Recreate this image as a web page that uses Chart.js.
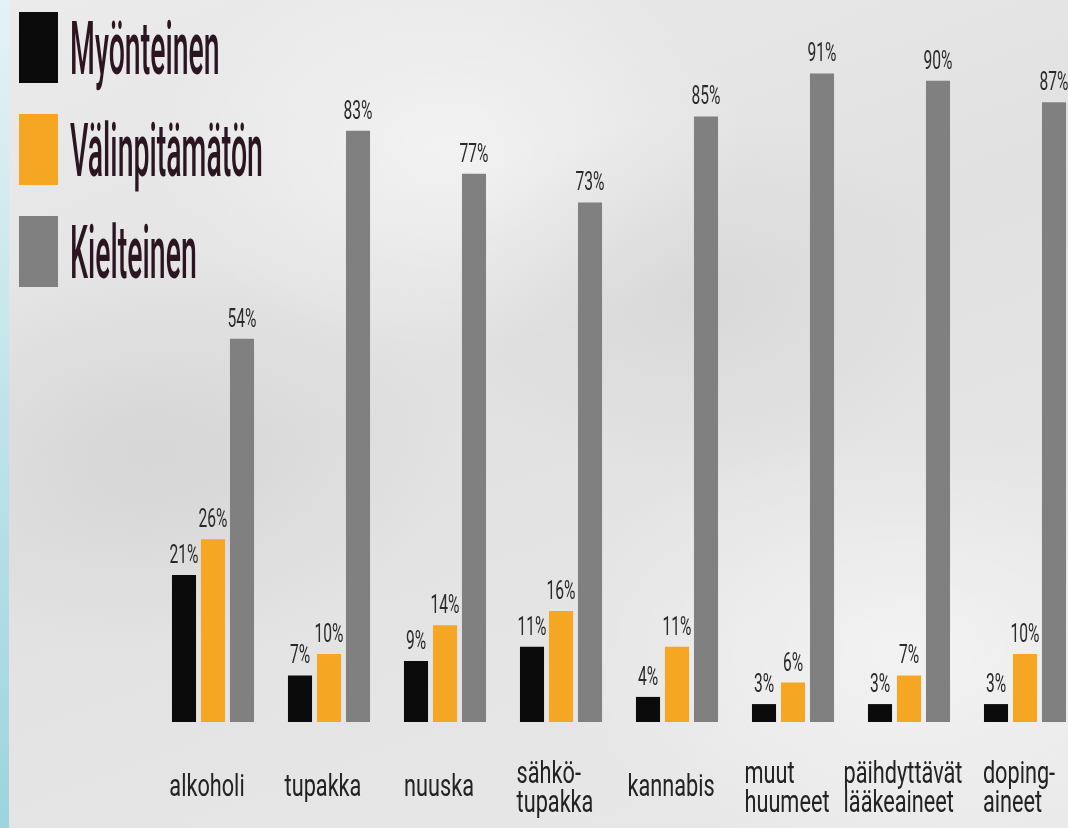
<!DOCTYPE html>
<html lang="fi">
<head>
    <meta charset="UTF-8">
    <title>Asenteet päihteisiin</title>
    <script src="https://cdn.jsdelivr.net/npm/chart.js"></script>
    <style>
        html, body {
            margin: 0;
            padding: 0;
            width: 1068px;
            height: 828px;
            overflow: hidden;
        }
        body {
            background:
                radial-gradient(ellipse 300px 200px at 150px 450px, rgba(200,200,200,0.45), transparent),
                radial-gradient(ellipse 260px 180px at 700px 300px, rgba(205,205,205,0.4), transparent),
                radial-gradient(ellipse 350px 220px at 900px 650px, rgba(255,255,255,0.5), transparent),
                radial-gradient(ellipse 300px 200px at 450px 150px, rgba(255,255,255,0.5), transparent),
                linear-gradient(160deg, #ebebeb 0%, #e1e1e1 45%, #e9e9e9 100%);
            position: relative;
        }
        .strip {
            position: absolute;
            left: 0;
            top: 0;
            width: 9px;
            height: 828px;
            background: linear-gradient(180deg, #e4f2f6 0%, #bfe3ea 50%, #9dd4dd 100%);
            z-index: 2;
        }
        .wrap {
            position: absolute;
            left: 0;
            top: 0;
            width: 1100px;
            height: 828px;
        }
    </style>
</head>
<body>
    <div class="strip"></div>
    <div class="wrap"><canvas id="chart" width="1100" height="828"></canvas></div>

    <script>
    // Data
    const categories = [
        ['alkoholi'], ['tupakka'], ['nuuska'], ['sähkö-', 'tupakka'],
        ['kannabis'], ['muut', 'huumeet'], ['päihdyttävät', 'lääkeaineet'], ['doping-', 'aineet']
    ];
    const seriesNames = ['Myönteinen', 'Välinpitämätön', 'Kielteinen'];
    const myonteinen = [21, 7, 9, 11, 4, 3, 3, 3];
    const valinpitamaton = [26, 10, 14, 16, 11, 6, 7, 10];
    const kielteinen = [54, 83, 77, 73, 85, 91, 90, 87];
    const colors = ['#0b0b0b', '#f5a623', '#808080'];

    const textColor = '#222';

    // draw condensed text by squeezing the canvas horizontally
    function squeezedText(ctx, text, x, y, sx, align) {
        ctx.save();
        ctx.translate(x, y);
        ctx.scale(sx, 1);
        ctx.textAlign = align;
        ctx.fillText(text, 0, 0);
        ctx.restore();
    }

    const labelsPlugin = {
        id: 'labelsPlugin',
        afterDatasetsDraw(chart) {
            const ctx = chart.ctx;
            const xScale = chart.scales.x;

            // value labels above bars
            ctx.save();
            ctx.fillStyle = '#2a2a2a';
            ctx.font = '26px Roboto';
            ctx.textBaseline = 'alphabetic';
            chart.data.datasets.forEach((ds, di) => {
                chart.getDatasetMeta(di).data.forEach((bar, i) => {
                    squeezedText(ctx, ds.data[i] + '%', bar.x, bar.y - 12, 0.6, 'center');
                });
            });
            ctx.restore();

            // category labels, multi-line ones left aligned
            ctx.save();
            ctx.fillStyle = textColor;
            ctx.font = '31px Roboto';
            const sx = 0.7;
            categories.forEach((lines, i) => {
                const cx = xScale.getPixelForValue(i);
                const w = Math.max(...lines.map(l => ctx.measureText(l).width)) * sx;
                const left = cx - w / 2 - 6;
                const top = lines.length > 1 ? 783 : 796;
                lines.forEach((l, li) => {
                    squeezedText(ctx, l, left, top + li * 29, sx, 'left');
                });
            });
            ctx.restore();

            // legend
            ctx.save();
            ctx.font = '500 74px Roboto';
            seriesNames.forEach((name, i) => {
                const y = 12 + i * 102;
                ctx.fillStyle = colors[i];
                ctx.fillRect(19, y, 39, 71);
                ctx.fillStyle = '#2b1520';
                squeezedText(ctx, name, 70, y + 62, 0.385, 'left');
            });
            ctx.restore();
        }
    };

    new Chart(document.getElementById('chart'), {
        type: 'bar',
        data: {
            labels: categories.map(c => c.join('')),
            datasets: [
                { label: seriesNames[0], data: myonteinen, backgroundColor: colors[0] },
                { label: seriesNames[1], data: valinpitamaton, backgroundColor: colors[1] },
                { label: seriesNames[2], data: kielteinen, backgroundColor: colors[2] }
            ]
        },
        options: {
            responsive: false,
            animation: false,
            datasets: {
                bar: {
                    categoryPercentage: 0.75,
                    barPercentage: 0.83
                }
            },
            layout: {
                padding: { left: 155, right: 17, top: 9, bottom: 106 }
            },
            plugins: {
                legend: { display: false },
                tooltip: { enabled: false }
            },
            scales: {
                x: { display: false },
                y: { display: false, min: 0.5, max: 100 }
            }
        },
        plugins: [labelsPlugin]
    });
    </script>
</body>
</html>
